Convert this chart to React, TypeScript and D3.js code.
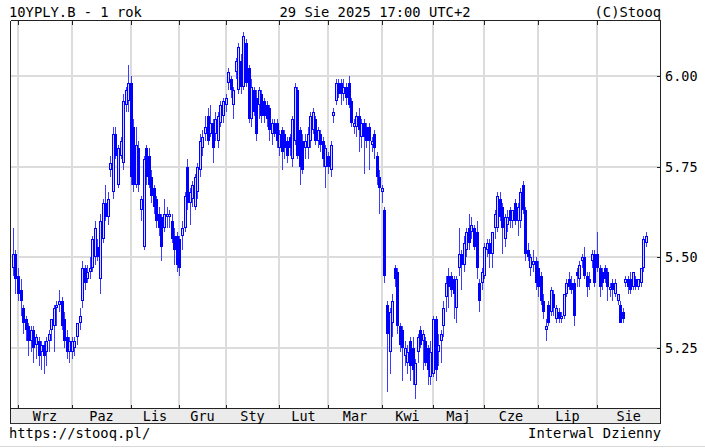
import React from "react";
import * as d3 from "d3";

type Candle = [number, number, number, number]; // open, high, low, close

const aug2024: Candle[] = [[5.47,5.58,5.45,5.51],[5.51,5.52,5.40,5.44]];
const sep2024: Candle[] = [
  [5.45,5.47,5.38,5.40],[5.41,5.44,5.34,5.38],[5.36,5.37,5.29,5.32],[5.33,5.34,5.27,5.30],
  [5.31,5.32,5.23,5.27],[5.27,5.31,5.24,5.30],[5.30,5.31,5.21,5.25],[5.26,5.29,5.22,5.28],
  [5.27,5.28,5.20,5.23],[5.24,5.27,5.19,5.26],[5.26,5.27,5.18,5.23],[5.24,5.28,5.20,5.27],
  [5.27,5.30,5.24,5.29],[5.30,5.33,5.27,5.33],[5.31,5.37,5.24,5.36],[5.36,5.38,5.31,5.37],
  [5.37,5.41,5.35,5.38],[5.38,5.39,5.30,5.31],[5.33,5.35,5.25,5.27],[5.28,5.30,5.22,5.24],
  [5.24,5.28,5.21,5.27]];
const oct2024: Candle[] = [
  [5.24,5.28,5.22,5.27],[5.25,5.28,5.23,5.27],[5.28,5.32,5.26,5.32],[5.32,5.36,5.30,5.34],
  [5.38,5.49,5.36,5.47],[5.47,5.48,5.41,5.43],[5.44,5.48,5.43,5.46],[5.46,5.50,5.44,5.47],
  [5.47,5.56,5.46,5.55],[5.50,5.60,5.48,5.58],[5.53,5.55,5.49,5.50],[5.44,5.62,5.40,5.60],
  [5.55,5.66,5.54,5.65],[5.65,5.70,5.60,5.61],[5.61,5.68,5.59,5.66],[5.74,5.78,5.72,5.76],
  [5.68,5.86,5.66,5.84],[5.84,5.86,5.77,5.78],[5.70,5.81,5.69,5.80],[5.78,5.83,5.77,5.82],
  [5.76,5.95,5.74,5.93],[5.92,5.97,5.90,5.96],[5.93,6.03,5.90,5.98]];
const nov2024: Candle[] = [
  [5.98,6.00,5.70,5.72],[5.86,5.88,5.68,5.70],[5.70,5.86,5.69,5.81],[5.80,5.82,5.68,5.70],
  [5.63,5.67,5.60,5.66],[5.53,5.78,5.52,5.77],[5.80,5.81,5.70,5.72],[5.78,5.80,5.69,5.70],
  [5.72,5.74,5.65,5.67],[5.69,5.70,5.62,5.64],[5.66,5.67,5.58,5.60],[5.62,5.64,5.56,5.58],
  [5.61,5.62,5.49,5.53],[5.58,5.66,5.57,5.62],[5.61,5.64,5.58,5.62],[5.61,5.63,5.58,5.62],
  [5.60,5.62,5.54,5.55],[5.56,5.58,5.48,5.52],[5.56,5.57,5.46,5.48]];
const dec2024: Candle[] = [
  [5.55,5.56,5.45,5.47],[5.56,5.60,5.52,5.58],[5.58,5.68,5.57,5.67],[5.75,5.77,5.63,5.65],
  [5.65,5.69,5.59,5.68],[5.66,5.71,5.64,5.70],[5.64,5.73,5.63,5.72],[5.68,5.76,5.66,5.75],
  [5.74,5.84,5.72,5.82],[5.80,5.85,5.78,5.83],[5.84,5.89,5.82,5.86],[5.89,5.91,5.81,5.82],
  [5.84,5.92,5.83,5.87],[5.87,5.88,5.76,5.80],[5.84,5.90,5.82,5.88],[5.82,5.90,5.80,5.89],
  [5.87,5.93,5.86,5.92],[5.89,5.94,5.87,5.93]];
const jan2025: Candle[] = [
  [5.92,5.95,5.90,5.94],[5.98,6.02,5.96,6.01],[5.99,6.00,5.94,5.96],[5.92,5.97,5.88,5.96],
  [6.01,6.05,5.99,6.04],[5.96,6.09,5.95,6.08],[6.04,6.06,5.95,5.97],[5.97,6.12,5.96,6.11],
  [6.09,6.10,5.97,5.98],[6.02,6.03,5.87,5.88],[5.88,5.99,5.86,5.97],[5.96,5.97,5.89,5.90],
  [5.94,5.96,5.82,5.84],[5.92,5.97,5.88,5.96],[5.95,5.96,5.87,5.89],[5.93,5.94,5.87,5.89],
  [5.92,5.93,5.86,5.88],[5.91,5.92,5.82,5.85],[5.84,5.88,5.81,5.87],[5.87,5.88,5.83,5.84],
  [5.87,5.88,5.80,5.82]];
const feb2025: Candle[] = [
  [5.80,5.85,5.78,5.84],[5.85,5.86,5.74,5.79],[5.84,5.85,5.77,5.80],[5.82,5.83,5.76,5.78],
  [5.83,5.84,5.78,5.80],[5.77,5.89,5.75,5.88],[5.82,5.98,5.81,5.97],[5.96,5.97,5.77,5.78],
  [5.85,5.86,5.70,5.75],[5.82,5.84,5.73,5.74],[5.80,5.84,5.77,5.82],[5.80,5.86,5.77,5.84],
  [5.82,5.90,5.80,5.89],[5.85,5.91,5.84,5.90],[5.88,5.89,5.81,5.82],[5.82,5.86,5.80,5.85],
  [5.84,5.85,5.79,5.81],[5.82,5.83,5.75,5.77],[5.75,5.81,5.69,5.80]];
const mar2025: Candle[] = [
  [5.78,5.79,5.73,5.75],[5.74,5.82,5.72,5.81],[5.89,5.91,5.87,5.90],[5.93,5.99,5.92,5.98],
  [5.98,5.99,5.94,5.95],[5.98,5.99,5.92,5.95],[5.95,5.99,5.93,5.97],[5.97,5.98,5.92,5.94],
  [5.98,6.00,5.91,5.92],[5.93,5.94,5.86,5.87],[5.86,5.88,5.84,5.87],[5.86,5.90,5.83,5.89],
  [5.89,5.91,5.79,5.85],[5.83,5.88,5.80,5.87],[5.87,5.88,5.73,5.83],[5.86,5.87,5.80,5.82],
  [5.86,5.87,5.74,5.82],[5.81,5.83,5.79,5.82],[5.84,5.85,5.77,5.80],[5.78,5.79,5.70,5.72],
  [5.72,5.74,5.62,5.69]];
const apr2025: Candle[] = [
  [5.68,5.70,5.65,5.69],[5.63,5.64,5.43,5.45],[5.37,5.38,5.13,5.29],[5.24,5.36,5.18,5.35],
  [5.32,5.40,5.28,5.38],[5.47,5.48,5.42,5.44],[5.46,5.47,5.29,5.31],[5.31,5.32,5.24,5.26],
  [5.30,5.31,5.16,5.25],[5.23,5.27,5.20,5.25],[5.21,5.26,5.18,5.24],[5.27,5.28,5.16,5.20],
  [5.25,5.28,5.15,5.19],[5.15,5.22,5.11,5.21],[5.24,5.29,5.21,5.28],[5.30,5.31,5.25,5.26],
  [5.27,5.30,5.19,5.29],[5.27,5.28,5.20,5.21],[5.25,5.26,5.15,5.19],[5.17,5.27,5.15,5.24]];
const may2025: Candle[] = [
  [5.18,5.34,5.17,5.33],[5.33,5.34,5.16,5.19],[5.24,5.29,5.20,5.26],[5.27,5.30,5.21,5.29],
  [5.31,5.38,5.28,5.36],[5.39,5.45,5.35,5.43],[5.45,5.47,5.36,5.42],[5.45,5.46,5.39,5.41],
  [5.44,5.45,5.33,5.40],[5.36,5.45,5.32,5.44],[5.47,5.58,5.45,5.51],[5.51,5.52,5.41,5.48],
  [5.48,5.56,5.46,5.54],[5.52,5.58,5.50,5.57],[5.58,5.62,5.52,5.54],[5.57,5.61,5.55,5.59],
  [5.58,5.59,5.52,5.53],[5.57,5.60,5.44,5.47],[5.43,5.44,5.35,5.38],[5.43,5.47,5.41,5.46]];
const jun2025: Candle[] = [
  [5.45,5.54,5.44,5.53],[5.52,5.55,5.50,5.54],[5.54,5.55,5.47,5.51],[5.51,5.57,5.47,5.57],
  [5.58,5.63,5.55,5.62],[5.58,5.68,5.57,5.67],[5.66,5.68,5.60,5.61],[5.64,5.65,5.51,5.58],
  [5.55,5.62,5.53,5.61],[5.59,5.63,5.57,5.61],[5.63,5.64,5.58,5.60],[5.60,5.63,5.58,5.63],
  [5.65,5.66,5.59,5.60],[5.60,5.65,5.56,5.64],[5.60,5.69,5.58,5.68],[5.70,5.71,5.62,5.63],
  [5.63,5.64,5.49,5.51],[5.52,5.54,5.49,5.50],[5.47,5.51,5.45,5.50],[5.48,5.52,5.46,5.49],
  [5.49,5.50,5.41,5.43]];
const jul2025: Candle[] = [
  [5.47,5.49,5.39,5.42],[5.45,5.46,5.37,5.38],[5.38,5.40,5.33,5.35],[5.30,5.33,5.27,5.31],
  [5.37,5.38,5.31,5.32],[5.35,5.42,5.34,5.41],[5.40,5.41,5.34,5.36],[5.33,5.37,5.32,5.36],
  [5.35,5.36,5.32,5.33],[5.33,5.35,5.32,5.34],[5.34,5.40,5.33,5.40],[5.40,5.44,5.39,5.43],
  [5.44,5.46,5.41,5.42],[5.43,5.45,5.40,5.41],[5.43,5.44,5.31,5.34],[5.46,5.47,5.42,5.45],
  [5.44,5.49,5.42,5.48],[5.49,5.51,5.47,5.50],[5.50,5.53,5.44,5.45],[5.45,5.46,5.39,5.42],
  [5.44,5.46,5.41,5.43],[5.49,5.52,5.47,5.51],[5.51,5.52,5.42,5.43]];
const aug2025: Candle[] = [
  [5.51,5.57,5.46,5.47],[5.47,5.48,5.39,5.42],[5.46,5.47,5.41,5.43],[5.47,5.48,5.43,5.44],
  [5.46,5.47,5.38,5.42],[5.41,5.43,5.39,5.42],[5.43,5.44,5.38,5.41],[5.40,5.44,5.39,5.43],
  [5.38,5.40,5.37,5.40],[5.37,5.38,5.32,5.32],[5.35,5.36,5.32,5.33],[5.43,5.45,5.42,5.44],
  [5.44,5.45,5.40,5.42],[5.44,5.46,5.40,5.41],[5.42,5.46,5.41,5.46],[5.44,5.45,5.41,5.42],
  [5.42,5.44,5.41,5.44],[5.43,5.47,5.42,5.47],[5.47,5.56,5.46,5.55],[5.54,5.57,5.53,5.56]];

const months: Candle[][] = [sep2024, oct2024, nov2024, dec2024, jan2025, feb2025, mar2025,
  apr2025, may2025, jun2025, jul2025, aug2025];
const monthLabels = ["Wrz","Paz","Lis","Gru","Sty","Lut","Mar","Kwi","Maj","Cze","Lip","Sie"];
const yTicks = [5.25, 5.5, 5.75, 6.0];
const yTickLabels = ["5.25", "5.50", "5.75", "6.00"];

const FONT = "'DejaVu Sans Mono', 'Liberation Mono', monospace";

export default function App() {
  const W = 705, H = 448;
  const left = 10.5, right = 660.5, top = 20.5, bottom = 408.5, bandBottom = 423.5;
  const all: Candle[] = [...aug2024, ...months.flat()];
  const x = d3.scaleLinear().domain([0, all.length - 1]).range([12.9, 645.7]);
  const y = d3.scaleLinear().domain([5.25, 6.0]).range([348.3, 75.7]);

  const starts: number[] = [];
  let idx = aug2024.length;
  months.forEach((m) => { starts.push(idx); idx += m.length; });
  const gridX = starts.map((s) => Math.round(x(s)));

  const blue = "#0000ff";
  const wick = "#3c3cff";
  const hollowFill = "#d4d4ff";

  return (
    <svg width={W} height={H} style={{ position: "absolute", left: 0, top: 0, background: "#fff" }}
      fontFamily={FONT}>
      <rect x={0} y={0} width={W} height={H} fill="#fff" />
      {/* header */}
      <text x={9} y={17} fontSize={13.8} fill="#000">10YPLY.B - 1 rok</text>
      <text x={375} y={17} fontSize={13.8} fill="#000" textAnchor="middle">29 Sie 2025 17:00 UTC+2</text>
      <text x={661} y={17} fontSize={13.8} fill="#000" textAnchor="end">(C)Stooq</text>

      {/* grid */}
      <g shapeRendering="crispEdges">
        {yTicks.map((t) => (
          <line key={"h" + t} x1={left} x2={right} y1={Math.round(y(t))} y2={Math.round(y(t))}
            stroke="#dcdcdc" strokeWidth={2} />
        ))}
        {gridX.map((gx, i) => (
          <line key={"v" + i} x1={gx} x2={gx} y1={top} y2={bottom} stroke="#dcdcdc" strokeWidth={2} />
        ))}
      </g>

      {/* candles */}
      <g shapeRendering="crispEdges">
        {all.map((c, i) => {
          const [o, h, l, cl] = c;
          const cx = Math.round(x(i));
          const up = cl >= o;
          const yTop = Math.round(y(Math.max(o, cl)));
          const yBot = Math.round(y(Math.min(o, cl)));
          const bh = Math.max(1, yBot - yTop);
          return (
            <g key={i}>
              <line x1={cx + 0.5} x2={cx + 0.5} y1={Math.round(y(h))} y2={Math.round(y(l))} stroke={wick} strokeWidth={1} />
              {up ? (
                <rect x={cx - 0.5} y={yTop + 0.5} width={2} height={Math.max(1, bh - 1)} fill={hollowFill} stroke={blue} strokeWidth={1} />
              ) : (
                <rect x={cx - 1} y={yTop} width={3} height={bh} fill={blue} />
              )}
            </g>
          );
        })}
      </g>

      {/* frame */}
      <g shapeRendering="crispEdges" stroke="#222" strokeWidth={1}>
        <rect x={left} y={bottom} width={right - left} height={bandBottom - bottom} fill="#ebebeb" stroke="#333" />
        <line x1={left} x2={right} y1={top} y2={top} />
        <line x1={left} x2={left} y1={top} y2={bandBottom} />
        <line x1={right} x2={right} y1={top} y2={bandBottom} />
        <line x1={left} x2={right} y1={bottom} y2={bottom} />
        {gridX.map((gx, i) => (
          <g key={"t" + i}>
            <line x1={gx} x2={gx} y1={bottom - 4} y2={bottom} />
            <line x1={gx} x2={gx} y1={top} y2={top + 4} />
          </g>
        ))}
        {yTicks.map((t) => (
          <line key={"yt" + t} x1={right - 4} x2={right} y1={Math.round(y(t))} y2={Math.round(y(t))} />
        ))}
      </g>

      {/* y labels */}
      {yTicks.map((t, i) => (
        <text key={"yl" + t} x={665} y={y(t) + 5} fontSize={13.5} fill="#000">{yTickLabels[i]}</text>
      ))}

      {/* month labels */}
      {monthLabels.map((m, i) => {
        const a = gridX[i];
        const b = i + 1 < gridX.length ? gridX[i + 1] : right;
        return (
          <text key={"m" + m} x={(a + b) / 2} y={420.5} fontSize={13.5} textAnchor="middle" fill="#000">{m}</text>
        );
      })}

      {/* footer */}
      <text x={9} y={438} fontSize={13.8} fill="#000">https://stooq.pl/</text>
      <text x={661} y={438} fontSize={13.8} fill="#000" textAnchor="end">Interwal Dzienny</text>
      <line x1={0} x2={W} y1={446.5} y2={446.5} stroke="#d8d8d8" strokeWidth={1} shapeRendering="crispEdges" />
    </svg>
  );
}
